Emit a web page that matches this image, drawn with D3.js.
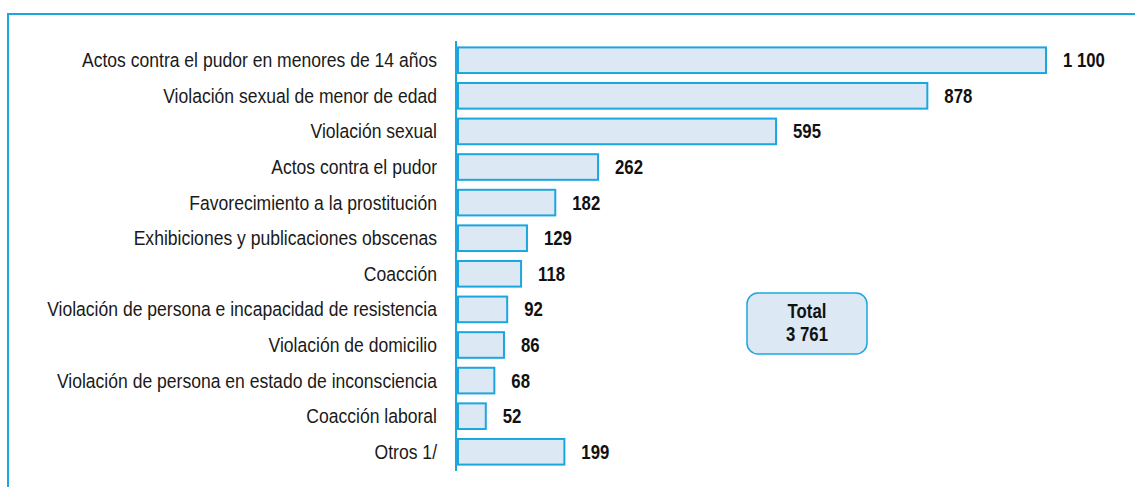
<!DOCTYPE html>
<html>
<head>
<meta charset="utf-8">
<script src="https://cdn.jsdelivr.net/npm/d3@7"></script>
<style>
  html, body { margin: 0; padding: 0; background: #fff; }
  svg { display: block; }
  svg text { font-family: "Liberation Sans", Arial, sans-serif; }
</style>
</head>
<body>
<svg id="chart" width="1135" height="487"></svg>
<script>
const categories = [
  "Actos contra el pudor en menores de 14 años",
  "Violación sexual de menor de edad",
  "Violación sexual",
  "Actos contra el pudor",
  "Favorecimiento a la prostitución",
  "Exhibiciones y publicaciones obscenas",
  "Coacción",
  "Violación de persona e incapacidad de resistencia",
  "Violación de domicilio",
  "Violación de persona en estado de inconsciencia",
  "Coacción laboral",
  "Otros 1/"
];
const values = [1100, 878, 595, 262, 182, 129, 118, 92, 86, 68, 52, 199];
const valueLabels = ["1 100", "878", "595", "262", "182", "129", "118", "92", "86", "68", "52", "199"];
const totalLabel = ["Total", "3 761"];

const blue = "#1ba6e0";
const fill = "#dde8f5";
const fontSize = "19.5px";
const sxLabel = 0.9;   // narrow look
const sxBold = 0.86;

const svg = d3.select("#chart");

// frame
svg.append("path")
  .attr("d", "M8,487 L8,14 L1135,14")
  .attr("fill", "none")
  .attr("stroke", blue)
  .attr("stroke-width", 2);

const x = d3.scaleLinear().domain([0, 1100]).range([458, 1046]);
const y = d3.scaleBand().domain(categories).range([41, 471])
  .paddingInner(0.28).paddingOuter(0.18);

// bars
svg.selectAll("rect.bar").data(values).enter().append("rect")
  .attr("class", "bar")
  .attr("x", x(0))
  .attr("y", (d, i) => y(categories[i]))
  .attr("width", d => x(d) - x(0))
  .attr("height", y.bandwidth())
  .attr("fill", fill)
  .attr("stroke", blue)
  .attr("stroke-width", 2);

// axis
const yAxis = d3.axisLeft(y).tickSize(0).tickPadding(19);
const ag = svg.append("g").attr("transform", "translate(456,0)").call(yAxis);
ag.attr("font-family", null).attr("font-size", null);
ag.select(".domain").attr("stroke", blue).attr("stroke-width", 2)
  .attr("d", "M0,41V471");
ag.selectAll("text")
  .attr("fill", "#1a1a1a")
  .style("font-size", fontSize)
  .attr("x", -19 / sxLabel)
  .attr("transform", `scale(${sxLabel},1)`)
  .attr("dy", "0.36em");

// value labels
svg.selectAll("text.val").data(values).enter().append("text")
  .attr("class", "val")
  .attr("transform", (d, i) => `translate(${x(d) + 17},${y(categories[i]) + y.bandwidth() / 2}) scale(${sxBold},1)`)
  .attr("dy", "0.36em")
  .attr("font-weight", "bold")
  .style("font-size", fontSize)
  .attr("fill", "#111")
  .text((d, i) => valueLabels[i]);

// total box
svg.append("rect")
  .attr("x", 747).attr("y", 293).attr("width", 120).attr("height", 61)
  .attr("rx", 11).attr("ry", 11)
  .attr("fill", fill).attr("stroke", blue).attr("stroke-width", 1.5);
svg.selectAll("text.tot").data(totalLabel).enter().append("text")
  .attr("class", "tot")
  .attr("transform", (d, i) => `translate(807,${318 + i * 23}) scale(${sxBold},1)`)
  .attr("text-anchor", "middle")
  .attr("font-weight", "bold")
  .style("font-size", fontSize)
  .attr("fill", "#111")
  .text(d => d);
</script>
</body>
</html>
